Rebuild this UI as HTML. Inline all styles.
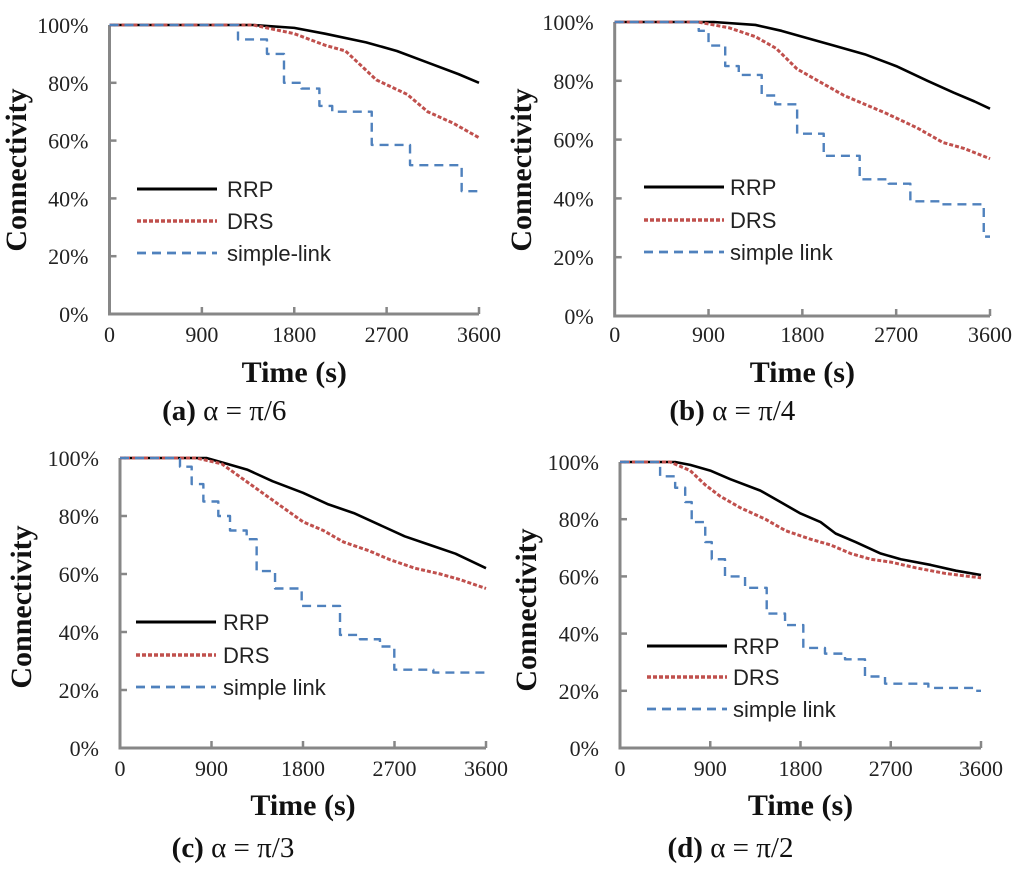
<!DOCTYPE html>
<html><head><meta charset="utf-8"><style>
html,body{margin:0;padding:0;background:#fff;width:1024px;height:871px;overflow:hidden}
svg{display:block}
.tick{font-family:"Liberation Serif",serif;font-size:22px;fill:#222}
.ttl{font-family:"Liberation Serif",serif;font-size:30px;font-weight:bold;fill:#111}
.cap{font-family:"Liberation Serif",serif;font-size:29px;fill:#111}
.leg{font-family:"Liberation Sans",sans-serif;font-size:22px;fill:#222}
</style></head><body>
<svg id="fig" width="1024" height="871" viewBox="0 0 1024 871"></svg>
<script>
// ---- data (time in s, connectivity in %) ----
const xTicks = [0, 900, 1800, 2700, 3600];
const yTicks = [0, 20, 40, 60, 80, 100];
const seriesNames = ["RRP", "DRS", "simple"];

const aRRP_t = [0,1400,1800,2100,2500,2800,3100,3400,3600];
const aRRP_v = [100,100,99,97,94,91,87,83,80];
const aDRS_t = [0,1400,1800,2100,2300,2450,2600,2900,3100,3350,3600];
const aDRS_v = [100,100,97,93,91,86,81,76,70,66,61];
const aSL_t = [0,1252,1534,1700,1870,2045,2170,2555,2928,3431,3600];
const aSL_v = [100,95,90,80,78,72,70,58.5,51.5,42.5,42.5];

const bRRP_t = [0,950,1350,1600,1800,2100,2400,2700,3000,3250,3450,3600];
const bRRP_v = [100,100,99,97,95,92,89,85,80,76,73,70.5];
const bDRS_t = [0,800,1100,1350,1550,1750,1950,2200,2400,2600,2900,3150,3350,3600];
const bDRS_v = [100,100,98,95,91,84,80,75,72,69,64,59,57,53.5];
const bSL_t = [0,806,900,1060,1190,1410,1540,1750,2005,2350,2628,2836,3140,3540,3600];
const bSL_v = [100,97,92,85,82,75,72,62,54.5,46.5,45,39,38,27,27];

const cRRP_t = [0,850,1050,1250,1500,1800,2050,2300,2550,2800,3050,3300,3600];
const cRRP_v = [100,100,98,96,92,88,84,81,77,73,70,67,62];
const cDRS_t = [0,750,1000,1200,1400,1600,1800,2000,2200,2450,2650,2900,3150,3350,3600];
const cDRS_v = [100,100,98,93,88,83,78,75,71,68,65,62,60,58,55];
const cSL_t = [0,590,705,820,967,1082,1246,1344,1525,1787,2164,2360,2557,2698,3082,3600];
const cSL_v = [100,97,91,85,80,75,72,61,55,49,39,37.5,35,27,26,25.5];

const dRRP_t = [0,550,700,900,1100,1400,1600,1800,2000,2150,2350,2600,2800,3100,3350,3600];
const dRRP_v = [100,100,99,97,94,90,86,82,79,75,72,68,66,64,62,60.5];
const dDRS_t = [0,500,700,850,1000,1200,1450,1650,1900,2100,2300,2500,2700,2950,3250,3600];
const dDRS_v = [100,100,97,92,88,84,80,76,73,71,68,66,65,63,61,59.5];
const dSL_t = [0,400,550,650,715,850,915,1047,1247,1463,1646,1828,2044,2244,2443,2643,3075,3540,3600];
const dSL_v = [100,95,91,86,79,72,66,60,56,47,43,35,33,31,25,22.5,21,20,20];

const panels = [
 {id:"a", x0:109.5, x1:479, y100:25, y0:314, legX:137, legY:[189,221,253], legT:227, ylabX:15, ylabY:170, xlabY:342, timeY:382, capY:420, names:["RRP","DRS","simple-link"],
  data:[[aRRP_t,aRRP_v],[aDRS_t,aDRS_v],[aSL_t,aSL_v]], cap:["(a)"," α = π/6"]},
 {id:"b", x0:614.7, x1:990, y100:22, y0:316, legX:644, legY:[187,220,252], legT:730, ylabX:520, ylabY:170, xlabY:342, timeY:382, capY:420, names:["RRP","DRS","simple link"],
  data:[[bRRP_t,bRRP_v],[bDRS_t,bDRS_v],[bSL_t,bSL_v]], cap:["(b)"," α = π/4"]},
 {id:"c", x0:120, x1:486, y100:458, y0:748, legX:136, legY:[622,655,687], legT:223, ylabX:20, ylabY:607, xlabY:776, timeY:815, capY:857, names:["RRP","DRS","simple link"],
  data:[[cRRP_t,cRRP_v],[cDRS_t,cDRS_v],[cSL_t,cSL_v]], cap:["(c)"," α = π/3"]},
 {id:"d", x0:620, x1:981, y100:462, y0:748, legX:647, legY:[646,677,709], legT:733, ylabX:525, ylabY:610, xlabY:776, timeY:815, capY:857, names:["RRP","DRS","simple link"],
  data:[[dRRP_t,dRRP_v],[dDRS_t,dDRS_v],[dSL_t,dSL_v]], cap:["(d)"," α = π/2"]}
];
const styles = [
 {stroke:"#000", w:2.6, dash:"", step:false},
 {stroke:"#c0504d", w:3, dash:"4 2", step:false},
 {stroke:"#4f81bd", w:2.4, dash:"9 6", step:true}
];
const NS="http://www.w3.org/2000/svg";
const svg=document.getElementById("fig");
function mk(tag,attrs,parent){const e=document.createElementNS(NS,tag);for(const k in attrs)e.setAttribute(k,attrs[k]);(parent||svg).appendChild(e);return e;}

panels.forEach(p=>{
  const g=mk("g",{});
  
  
  const X=t=>p.x0+(t/3600)*(p.x1-p.x0);
  const Y=v=>p.y0-(v/100)*(p.y0-p.y100);
  const ax=mk("path",{d:`M${p.x0},${p.y100} V${p.y0} H${p.x1}`,fill:"none",stroke:"#878787","stroke-width":3},g);
  
  
  yTicks.forEach(v=>{
    mk("line",{x1:p.x0,x2:p.x0+7,y1:Y(v),y2:Y(v),stroke:"#878787","stroke-width":2.5},g);
    const t=mk("text",{x:p.x0-21,y:Y(v)+8,"text-anchor":"end",class:"tick"},g);
    t.textContent=v+"%";
    
    
  });
  xTicks.forEach(v=>{
    mk("line",{x1:X(v),x2:X(v),y1:p.y0,y2:p.y0-7,stroke:"#878787","stroke-width":2.5},g);
    const t=mk("text",{x:X(v),y:p.xlabY,"text-anchor":"middle",class:"tick"},g);
    t.textContent=v;
    
    
  });
  p.data.forEach((d,i)=>{
    const s=styles[i];const ts=d[0],vs=d[1];
    let path=`M${X(ts[0])},${Y(vs[0])}`;
    for(let k=1;k<ts.length;k++){
      if(s.step) path+=` H${X(ts[k])} V${Y(vs[k])}`;
      else path+=` L${X(ts[k])},${Y(vs[k])}`;
    }
    const l=mk("path",{d:path,fill:"none",stroke:s.stroke,"stroke-width":s.w,"stroke-dasharray":s.dash,"stroke-linejoin":"round"},g);
    
    
    const ll=mk("line",{x1:p.legX,x2:p.legX+80,y1:p.legY[i],y2:p.legY[i],stroke:s.stroke,"stroke-width":s.w+0.4,"stroke-dasharray":s.dash},g);
    
    
    const lt=mk("text",{x:p.legT,y:p.legY[i]+8,class:"leg"},g);
    lt.textContent=p.names[i];
    
    
  });
  const yl=mk("text",{x:0,y:0,"text-anchor":"middle",class:"ttl",transform:`translate(${p.ylabX+11},${p.ylabY}) rotate(-90)`},g);
  yl.textContent="Connectivity";
  
  
  const xl=mk("text",{x:(p.x0+p.x1)/2,y:p.timeY,"text-anchor":"middle",class:"ttl"},g);
  xl.textContent="Time (s)";
  
  
  const cp=mk("text",{x:(p.x0+p.x1)/2-70,y:p.capY,"text-anchor":"middle",class:"cap"},g);
  const b=mk("tspan",{"font-weight":"bold"},cp);b.textContent=p.cap[0];
  const r=mk("tspan",{},cp);r.textContent=p.cap[1];
  
  
});
</script>
</body></html>
